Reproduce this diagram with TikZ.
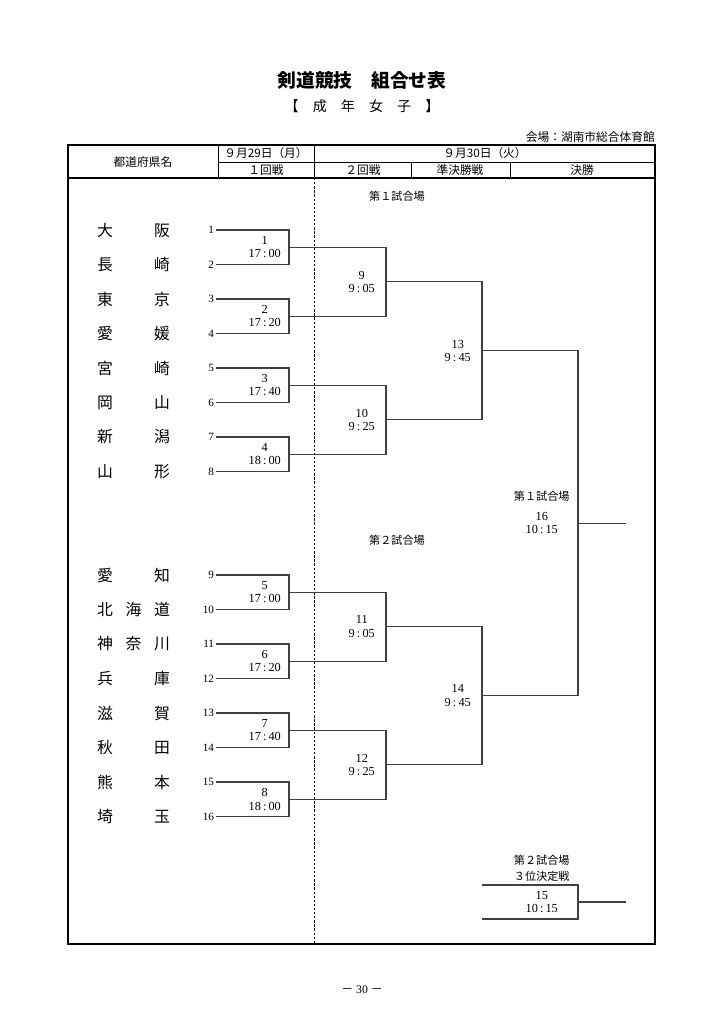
\documentclass[tikz,border=0pt]{standalone}
\usepackage{fontspec}
\setmainfont{Liberation Serif}
\newfontfamily\jp{Noto Sans CJK JP}
\usetikzlibrary{positioning}

\newcommand{\kenmei}[1]{\makebox[2.18cm][s]{#1}}
\newcommand{\jikan}[2]{#1\kern1.8pt:\kern1.8pt#2}

\tikzset{
  team/.style={font=\jp\fontsize{13.5}{14}\selectfont, inner sep=0pt},
  num/.style={font=\fontsize{9.5}{10}\selectfont, inner sep=1.5pt, anchor=east},
  match/.style={align=center, text width=1.3cm, inner sep=0pt, font=\fontsize{10.5}{11.5}\selectfont},
  venue/.style={font=\jp\fontsize{9.5}{11}\selectfont, inner sep=0pt},
  head/.style={font=\jp\fontsize{10}{12}\selectfont, inner sep=0pt},
  bracket/.style={line width=0.9pt, black!75},
}

\begin{document}
\begin{tikzpicture}[x=0.03cm,y=-0.03cm]
\useasboundingbox (0,0) rectangle (724,1024);
%Title
\node[font=\jp\bfseries\fontsize{16}{18}\selectfont] (title) at (362,80) {剣道競技　組合せ表};
\node[font=\jp\fontsize{12}{14}\selectfont] (sub) at (362,106) {【　成　年　女　子　】};
\node[head, anchor=east] (hall) at (655,137) {会場：湖南市総合体育館};

%Frame
\draw[line width=1.6pt] (68,145) rectangle (655,944);
\draw[line width=1.2pt] (68,178) -- (655,178);
\draw[line width=0.8pt] (218,162) -- (655,162);
\draw[line width=0.8pt] (218,145) -- (218,178);
\draw[line width=0.8pt] (314,145) -- (314,178);
\draw[line width=0.8pt] (411,162) -- (411,178);
\draw[line width=0.8pt] (510,162) -- (510,178);
\draw[dash pattern=on 2pt off 1.5pt, line width=0.6pt] (314,178) -- (314,944);

%Header
\node[head] (h0) at (143,162) {都道府県名};
\node[head] (h1) at (266,153.5) {９月29日（月）};
\node[head] (h2) at (266,170) {１回戦};
\node[head] (h3) at (485,153.5) {９月30日（火）};
\node[head] (h4) at (363,170) {２回戦};
\node[head] (h5) at (460,170) {準決勝戦};
\node[head] (h6) at (582,170) {決勝};

%Venues
\node[venue] (v1) at (397,196) {第１試合場};
\node[venue] (v2) at (397,540) {第２試合場};

%Teams
\node[team] (p1) at (133.5,230) {\kenmei{大 阪}};
\node[num] (k1) at (216,230) {1};
\node[team] (p2) at (133.5,264.5) {\kenmei{長 崎}};
\node[num] (k2) at (216,264.5) {2};
\node[team] (p3) at (133.5,299) {\kenmei{東 京}};
\node[num] (k3) at (216,299) {3};
\node[team] (p4) at (133.5,333.5) {\kenmei{愛 媛}};
\node[num] (k4) at (216,333.5) {4};
\node[team] (p5) at (133.5,368) {\kenmei{宮 崎}};
\node[num] (k5) at (216,368) {5};
\node[team] (p6) at (133.5,402.5) {\kenmei{岡 山}};
\node[num] (k6) at (216,402.5) {6};
\node[team] (p7) at (133.5,437) {\kenmei{新 潟}};
\node[num] (k7) at (216,437) {7};
\node[team] (p8) at (133.5,471.5) {\kenmei{山 形}};
\node[num] (k8) at (216,471.5) {8};
\node[team] (p9) at (133.5,575) {\kenmei{愛 知}};
\node[num] (k9) at (216,575) {9};
\node[team] (p10) at (133.5,609.5) {\kenmei{北 海 道}};
\node[num] (k10) at (216,609.5) {10};
\node[team] (p11) at (133.5,644) {\kenmei{神 奈 川}};
\node[num] (k11) at (216,644) {11};
\node[team] (p12) at (133.5,678.5) {\kenmei{兵 庫}};
\node[num] (k12) at (216,678.5) {12};
\node[team] (p13) at (133.5,713) {\kenmei{滋 賀}};
\node[num] (k13) at (216,713) {13};
\node[team] (p14) at (133.5,747.5) {\kenmei{秋 田}};
\node[num] (k14) at (216,747.5) {14};
\node[team] (p15) at (133.5,782) {\kenmei{熊 本}};
\node[num] (k15) at (216,782) {15};
\node[team] (p16) at (133.5,816.5) {\kenmei{埼 玉}};
\node[num] (k16) at (216,816.5) {16};

%Round 1
\coordinate (m1) at (289,247.25);
\coordinate (m2) at (289,316.25);
\coordinate (m3) at (289,385.25);
\coordinate (m4) at (289,454.25);
\coordinate (m5) at (289,592.25);
\coordinate (m6) at (289,661.25);
\coordinate (m7) at (289,730.25);
\coordinate (m8) at (289,799.25);
\draw[bracket] (k1.east) -| (m1) |- (k2.east);
\draw[bracket] (k3.east) -| (m2) |- (k4.east);
\draw[bracket] (k5.east) -| (m3) |- (k6.east);
\draw[bracket] (k7.east) -| (m4) |- (k8.east);
\draw[bracket] (k9.east) -| (m5) |- (k10.east);
\draw[bracket] (k11.east) -| (m6) |- (k12.east);
\draw[bracket] (k13.east) -| (m7) |- (k14.east);
\draw[bracket] (k15.east) -| (m8) |- (k16.east);
\node[match, left=0.07cm of m1] (l1) {1\\\jikan{17}{00}};
\node[match, left=0.07cm of m2] (l2) {2\\\jikan{17}{20}};
\node[match, left=0.07cm of m3] (l3) {3\\\jikan{17}{40}};
\node[match, left=0.07cm of m4] (l4) {4\\\jikan{18}{00}};
\node[match, left=0.07cm of m5] (l5) {5\\\jikan{17}{00}};
\node[match, left=0.07cm of m6] (l6) {6\\\jikan{17}{20}};
\node[match, left=0.07cm of m7] (l7) {7\\\jikan{17}{40}};
\node[match, left=0.07cm of m8] (l8) {8\\\jikan{18}{00}};

%Round 2
\coordinate (m9) at (386,281.75);
\coordinate (m10) at (386,419.75);
\coordinate (m11) at (386,626.75);
\coordinate (m12) at (386,764.75);
\draw[bracket] (m1) -| (m9) |- (m2);
\draw[bracket] (m3) -| (m10) |- (m4);
\draw[bracket] (m5) -| (m11) |- (m6);
\draw[bracket] (m7) -| (m12) |- (m8);
\node[match, left=0.07cm of m9] (l9) {9\\\jikan{9}{05}};
\node[match, left=0.07cm of m10] (l10) {10\\\jikan{9}{25}};
\node[match, left=0.07cm of m11] (l11) {11\\\jikan{9}{05}};
\node[match, left=0.07cm of m12] (l12) {12\\\jikan{9}{25}};

%Semifinals
\coordinate (m13) at (482,350.75);
\coordinate (m14) at (482,695.75);
\draw[bracket] (m9) -| (m13) |- (m10);
\draw[bracket] (m11) -| (m14) |- (m12);
\node[match, left=0.07cm of m13] (l13) {13\\\jikan{9}{45}};
\node[match, left=0.07cm of m14] (l14) {14\\\jikan{9}{45}};

%Final
\coordinate (m16) at (578,523.25);
\coordinate (w16) at (626,523.25);
\draw[bracket] (m13) -| (m16) |- (m14);
\draw[bracket] (m16) -- (w16);
\node[match, left=0.43cm of m16] (l16) {16\\\jikan{10}{15}};
\node[venue, above=0.3cm of l16] (v3) {第１試合場};

%Third place
\coordinate (a15) at (482,885);
\coordinate (b15) at (482,919);
\coordinate (m15) at (578,902);
\coordinate (w15) at (626,902);
\draw[bracket] (a15) -| (m15) |- (b15);
\draw[bracket] (m15) -- (w15);
\node[match, left=0.43cm of m15] (l15) {15\\\jikan{10}{15}};
\node[venue, above=0.27cm of l15] (v5) {３位決定戦};
\node[venue, above=0.15cm of v5] (v4) {第２試合場};

%Page number
\node[font=\fontsize{10}{12}\selectfont] (pg) at (362,990) {{\jp －}\ 30\ {\jp －}};
\end{tikzpicture}
\end{document}
